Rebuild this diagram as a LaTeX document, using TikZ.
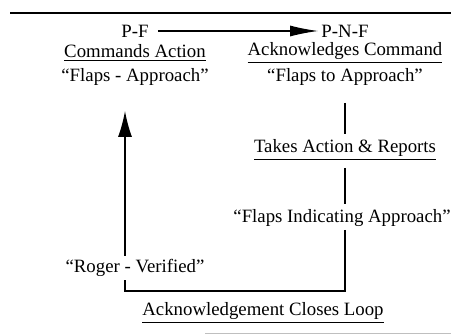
\documentclass[tikz,border=0pt]{standalone}
\usepackage{fontspec}
\setmainfont{Liberation Serif}
\usetikzlibrary{arrows.meta}
\begin{document}
\begin{tikzpicture}[%
      x=0.5pt, y=-0.5pt,
      lbl/.style={font=\fontsize{9.4}{11}\selectfont, inner sep=1.5pt},
      wire/.style={line width=1.1pt},
      thin wire/.style={line width=0.6pt}]
      \useasboundingbox (0,0) rectangle (451,335);
      \draw[line width=1.1pt] (10,13) -- (451,13);
      \draw[black!25, line width=0.4pt] (205,333) -- (451,333);
      \node[lbl] (pf) at (135,31) {P-F};
      \node[lbl] (pnf) at (345,31) {P-N-F};
      \node[lbl] (cmd) at (135,53) {\underline{Commands Action}};
      \node[lbl] (ack) at (345,53) {\underline{Acknowledges Command}};
      \node[lbl] (flapsapp) at (135,77) {“Flaps - Approach”};
      \node[lbl] (flapsto) at (345,77) {“Flaps to Approach”};
      \node[lbl] (takes) at (345,150) {\underline{Takes Action \& Reports}};
      \node[lbl] (flapsind) at (342,218) {“Flaps Indicating Approach”};
      \node[lbl, fill=white] (roger) at (135,268) {“Roger - Verified”};
      \node[lbl] (loop) at (263,313) {\underline{Acknowledgement Closes Loop}};
      \coordinate (br) at (345,291);
      \coordinate (bl) at (125,291);
      \coordinate (tip) at (125,111);
      % command and read back
      \draw[thin wire, shorten <=3pt, -{Latex[length=14pt, width=5.5pt]}] (pf) -- (pnf);
      \draw[wire, shorten <=7pt, shorten >=1pt] (flapsto.south -| br) -- (takes.north -| br);
      \draw[wire, shorten <=2pt, shorten >=1pt] (takes.south -| br) -- (flapsind.north -| br);
      % loop back
      \draw[wire] (flapsind.south -| br) -- (br) -- (bl) -- (bl |- roger.south);
      \draw[thin wire, -{Latex[length=13pt, width=7pt]}] (bl |- roger.north) -- (tip);
    \end{tikzpicture}
\end{document}
